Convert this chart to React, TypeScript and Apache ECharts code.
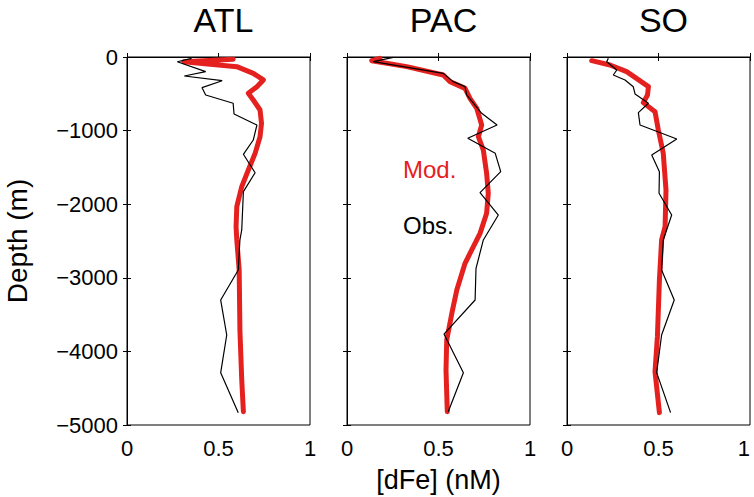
import React, { useEffect, useRef } from "react";
import * as echarts from "echarts";

const panels = ["ATL", "PAC", "SO"];
const xTicks = [0, 0.5, 1];
const yTicks = [0, -1000, -2000, -3000, -4000, -5000];

// ATL
const atlModFe = [0.58, 0.31, 0.6, 0.69, 0.745, 0.71, 0.663, 0.69, 0.727, 0.735, 0.727, 0.7, 0.663, 0.627, 0.6, 0.596, 0.6, 0.613, 0.617, 0.627, 0.636];
const atlModDepth = [-30, -64, -131, -222, -312, -403, -493, -584, -720, -901, -1083, -1309, -1535, -1762, -2034, -2306, -2486, -2894, -3709, -4389, -4819];
const atlObsFe = [0.353, 0.275, 0.43, 0.313, 0.52, 0.41, 0.43, 0.58, 0.585, 0.71, 0.69, 0.636, 0.7, 0.636, 0.627, 0.617, 0.608, 0.512, 0.545, 0.512, 0.608];
const atlObsDepth = [-18, -64, -199, -258, -322, -417, -516, -629, -774, -924, -1128, -1322, -1572, -1830, -2350, -2486, -2894, -3302, -3777, -4289, -4832];

// PAC
const pacModFe = [0.18, 0.135, 0.326, 0.526, 0.563, 0.645, 0.672, 0.709, 0.736, 0.718, 0.745, 0.763, 0.772, 0.763, 0.727, 0.645, 0.6, 0.573, 0.545, 0.541, 0.548];
const pacModDepth = [-18, -50, -131, -245, -335, -426, -562, -697, -924, -1083, -1264, -1580, -1852, -2124, -2396, -2803, -3166, -3482, -3845, -4253, -4819];
const pacObsFe = [0.253, 0.144, 0.526, 0.58, 0.645, 0.654, 0.736, 0.82, 0.66, 0.81, 0.84, 0.727, 0.827, 0.745, 0.705, 0.7, 0.53, 0.636, 0.553];
const pacObsDepth = [-5, -64, -222, -335, -403, -516, -765, -924, -1105, -1309, -1558, -1843, -2147, -2486, -2871, -3302, -3764, -4289, -4819];

// SO
const soModFe = [0.135, 0.235, 0.326, 0.445, 0.44, 0.417, 0.481, 0.499, 0.526, 0.541, 0.536, 0.517, 0.505, 0.494, 0.481, 0.505];
const soModDepth = [-50, -109, -199, -403, -516, -620, -743, -992, -1309, -1807, -2306, -2486, -3030, -3800, -4275, -4832];
const soObsFe = [0.226, 0.217, 0.272, 0.253, 0.317, 0.362, 0.372, 0.445, 0.39, 0.399, 0.6, 0.463, 0.505, 0.503, 0.572, 0.526, 0.517, 0.586, 0.517, 0.49, 0.566];
const soObsDepth = [-18, -64, -177, -245, -312, -403, -503, -629, -756, -924, -1114, -1332, -1558, -1852, -2147, -2486, -2894, -3302, -3777, -4289, -4832];

const modFe = [atlModFe, pacModFe, soModFe];
const modDepth = [atlModDepth, pacModDepth, soModDepth];
const obsFe = [atlObsFe, pacObsFe, soObsFe];
const obsDepth = [atlObsDepth, pacObsDepth, soObsDepth];

const RED = "#e5211f";
const FONT = "Liberation Sans, Arial, Helvetica, sans-serif";

export default function App() {
  const ref = useRef<HTMLDivElement>(null);
  useEffect(() => {
    if (!ref.current) return;
    const chart = echarts.init(ref.current, undefined, { renderer: "svg" });
    const lefts = [127, 347, 567];
    const grids = lefts.map((l) => ({
      left: l, top: 57, width: 183, height: 368,
      show: true, borderColor: "#000", borderWidth: 1, backgroundColor: "#fff",
      containLabel: false, outerBoundsMode: "none",
    }));
    const xAxes: any[] = [];
    const yAxes: any[] = [];
    const series: any[] = [];
    const fmtY = (v: number) => (v < 0 ? "\u2212" + String(-v) : String(v));
    lefts.forEach((_, i) => {
      xAxes.push({
        type: "value", gridIndex: i, min: xTicks[0], max: xTicks[2], interval: 0.5,
        position: "bottom",
        axisLine: { show: true, lineStyle: { color: "#000", width: 1 } },
        axisTick: { show: true, inside: true, length: 4, lineStyle: { color: "#000" } },
        axisLabel: {
          show: true, color: "#000", fontSize: 22, fontFamily: FONT, margin: 12,
          alignMaxLabel: i === 2 ? "right" : undefined,
        },
        splitLine: { show: false },
        name: i === 1 ? "[dFe] (nM)" : "",
        nameLocation: "middle", nameGap: 41,
        nameTextStyle: { color: "#000", fontSize: 27, fontFamily: FONT },
      });
      xAxes.push({
        type: "value", gridIndex: i, min: 0, max: 1, interval: 0.5, position: "top",
        axisLine: { show: true, lineStyle: { color: "#000", width: 1 } },
        axisTick: { show: true, inside: true, length: 4, lineStyle: { color: "#000" } },
        axisLabel: { show: false }, splitLine: { show: false },
      });
      yAxes.push({
        type: "value", gridIndex: i, min: yTicks[5], max: yTicks[0], interval: 1000,
        position: "left",
        axisLine: { show: true, lineStyle: { color: "#000", width: 1 } },
        axisTick: { show: true, inside: true, length: 4, lineStyle: { color: "#000" } },
        axisLabel: { show: i === 0, color: "#000", fontSize: 22, fontFamily: FONT, margin: 9, formatter: fmtY },
        splitLine: { show: false },
        name: i === 0 ? "Depth (m)" : "",
        nameLocation: "middle", nameGap: 96, nameRotate: 90,
        nameTextStyle: { color: "#000", fontSize: 28, fontFamily: FONT },
      });
      yAxes.push({
        type: "value", gridIndex: i, min: -5000, max: 0, interval: 1000, position: "right",
        axisLine: { show: true, lineStyle: { color: "#000", width: 1 } },
        axisTick: { show: true, inside: true, length: 4, lineStyle: { color: "#000" } },
        axisLabel: { show: false }, splitLine: { show: false },
      });
      series.push({
        type: "line", name: "Mod.", xAxisIndex: i * 2, yAxisIndex: i * 2,
        data: modFe[i].map((v, k) => [v, modDepth[i][k]]),
        symbol: "none", lineStyle: { color: RED, width: 5, join: "round", cap: "round" },
        itemStyle: { color: RED }, z: 2,
      });
      series.push({
        type: "line", name: "Obs.", xAxisIndex: i * 2, yAxisIndex: i * 2,
        data: obsFe[i].map((v, k) => [v, obsDepth[i][k]]),
        symbol: "none", lineStyle: { color: "#000", width: 1.2 },
        itemStyle: { color: "#000" }, z: 3,
      });
    });
    const titles = panels.map((t, i) => ({
      text: t, left: lefts[i] + 91.5, top: -2, textAlign: "center",
      textStyle: { color: "#000", fontSize: 34, fontWeight: "normal", fontFamily: FONT },
    }));
    chart.setOption({
      animation: false,
      backgroundColor: "#fff",
      title: titles,
      grid: grids,
      xAxis: xAxes,
      yAxis: yAxes,
      series,
      graphic: [
        { type: "text", left: 403, top: 157, style: { text: "Mod.", fill: RED, fontSize: 24, fontFamily: FONT } },
        { type: "text", left: 403, top: 213, style: { text: "Obs.", fill: "#000", fontSize: 24, fontFamily: FONT } },
      ],
    });
    return () => chart.dispose();
  }, []);
  return <div ref={ref} style={{ width: 754, height: 497, position: "absolute", left: 0, top: 0 }} />;
}
